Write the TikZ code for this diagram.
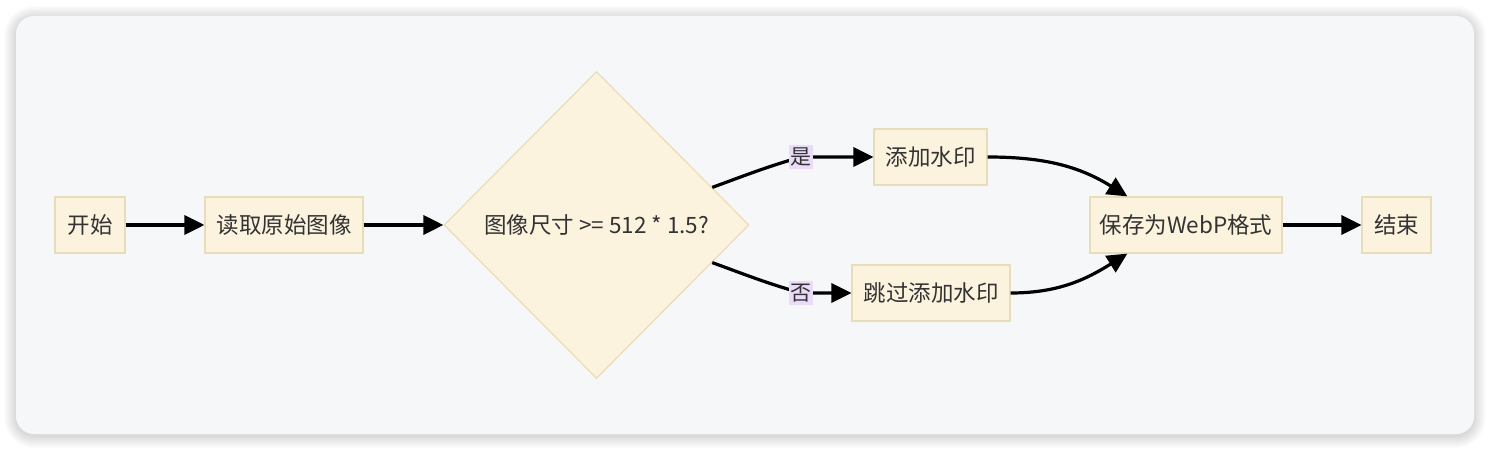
\documentclass[tikz,border=0pt]{standalone}
\usepackage{fontspec}
\setmainfont{Noto Sans CJK SC}
\usetikzlibrary{shapes.geometric,arrows.meta}
\definecolor{panelbg}{HTML}{F6F7F9}
\definecolor{boxfill}{HTML}{FCF3DF}
\definecolor{boxline}{HTML}{E8DDB8}
\definecolor{txt}{HTML}{333333}
\definecolor{lblfill}{HTML}{EADCF8}
\tikzset{
  box/.style={draw=boxline, fill=boxfill, line width=1.2pt, text=txt,
    minimum height=56pt, inner sep=0pt, font=\fontsize{22.5}{27}\selectfont},
  decision/.style={box, diamond, aspect=1, minimum width=305pt, minimum height=307pt},
  flow/.style={line width=3.2pt, -{Triangle[length=20pt,width=19pt]}},
  lbl/.style={fill=lblfill, text=txt, inner xsep=1.5pt, inner ysep=3pt, font=\fontsize{21}{25}\selectfont},
}
\begin{document}
\begin{tikzpicture}[x=1pt,y=1pt]
  \useasboundingbox (0,0) rectangle (1490,450);
  \foreach \s in {1,...,12}
    \fill[black,opacity=0.012,rounded corners={18pt+\s pt}] (16-\s,16-\s-2) rectangle (1474+\s,434+\s-2);
  \fill[panelbg,rounded corners=18pt] (16,16) rectangle (1474,434);

  \node[box, minimum width=70pt] (start) at (90,225) {开始};
  \node[box, minimum width=158pt] (read) at (284,225) {读取原始图像};
  \node[decision] (check) at (596.5,225) {图像尺寸 >= 512 * 1.5?};
  \node[box, minimum width=113pt] (mark) at (930.5,293) {添加水印};
  \node[box, minimum width=158pt] (skip) at (931,157) {跳过添加水印};
  \node[box, minimum width=192pt] (save) at (1186,225) {保存为WebP格式};
  \node[box, minimum width=69pt] (finish) at (1396.5,225) {结束};

  \coordinate (yespos) at (801,293);
  \coordinate (nopos) at (801,157);

  \draw[flow] (start) -- (read);
  \draw[flow] (read) -- (check);
  \draw[flow] (check.18) to[out=20,in=196] (yespos) -- (mark);
  \draw[flow] (check.-18) to[out=-20,in=164] (nopos) -- (skip);
  \draw[flow] (mark.east) to[out=0,in=148] (save.154);
  \draw[flow] (skip.east) to[out=0,in=212] (save.206);
  \draw[flow] (save) -- (finish);

  \node[lbl] (yes) at (yespos) {是};
  \node[lbl] (no) at (nopos) {否};
\end{tikzpicture}
\end{document}
